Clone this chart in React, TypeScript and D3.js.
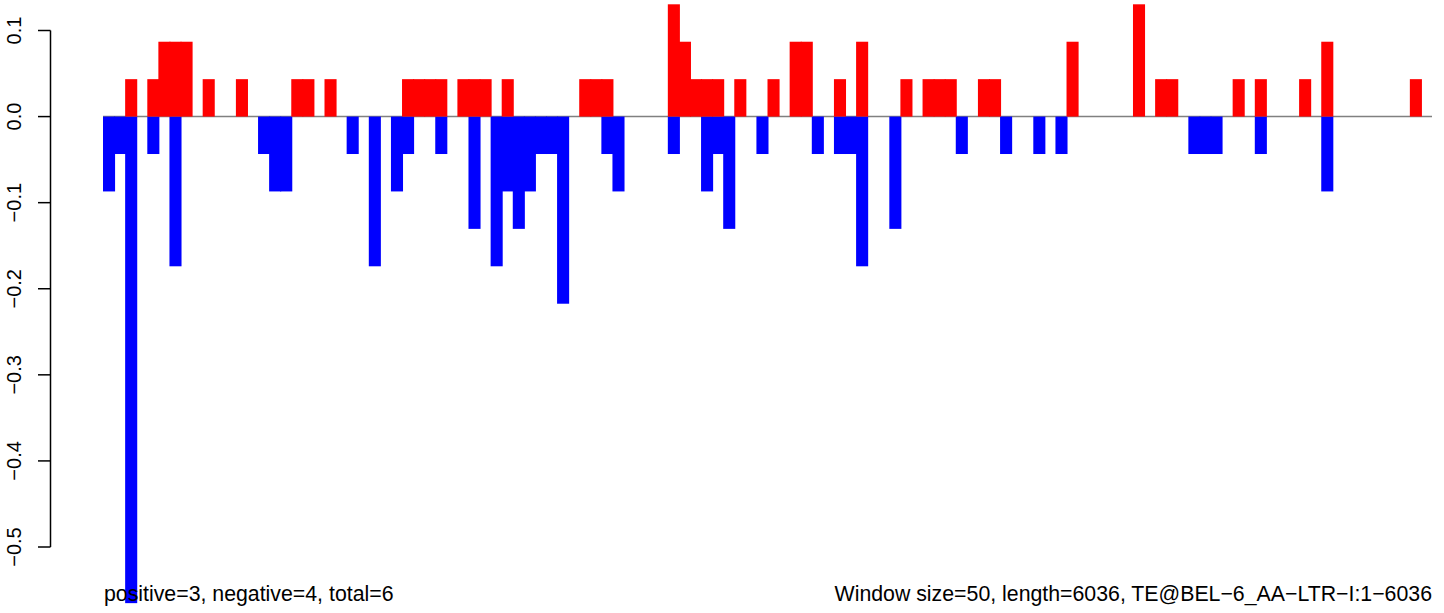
import React from "react";
import * as d3 from "d3";

// One unit = 1/23 (values are multiples of it)
const U = 1 / 23;

// window indices (0..119) with positive values (in units of U)
const posIndex = [2, 4, 5, 6, 7, 9, 12, 17, 18, 20, 27, 28, 29, 30, 32, 33, 34, 36, 43, 44, 45, 51, 52, 53, 54, 55, 57, 60, 62, 63, 66, 68, 72, 74, 75, 76, 79, 80, 87, 93, 95, 96, 102, 104, 108, 110, 118];
const posUnits = [1, 1, 2, 2, 2, 1, 1, 1, 1, 1, 1, 1, 1, 1, 1, 1, 1, 1, 1, 1, 1, 3, 2, 1, 1, 1, 1, 1, 2, 2, 1, 2, 1, 1, 1, 1, 1, 1, 2, 3, 1, 1, 1, 1, 1, 2, 1];

// window indices with negative values (in units of U)
const negIndex = [0, 1, 2, 4, 6, 14, 15, 16, 22, 24, 26, 27, 30, 33, 35, 36, 37, 38, 39, 40, 41, 45, 46, 51, 54, 55, 56, 59, 64, 66, 67, 68, 71, 77, 81, 84, 86, 98, 99, 100, 104, 110];
const negUnits = [2, 1, 13, 1, 4, 1, 2, 2, 1, 4, 2, 1, 1, 3, 4, 2, 3, 2, 1, 1, 5, 1, 2, 1, 2, 1, 3, 1, 1, 1, 1, 4, 3, 1, 1, 1, 1, 1, 1, 1, 1, 2];

const nWindows = 120;
const yTicks = [0.1, 0.0, -0.1, -0.2, -0.3, -0.4, -0.5];
const leftNote = "positive=3, negative=4, total=6";
const rightNote = "Window size=50, length=6036, TE@BEL\u22126_AA\u2212LTR\u2212I:1\u22126036";

const W = 1444;
const H = 613;

export default function App() {
  const x = d3.scaleLinear().domain([0, nWindows]).range([103, 1432]);
  const y = d3.scaleLinear().domain([-0.5, 0.1]).range([547, 30.5]);
  const step = x(1) - x(0);
  const bw = step + 1;
  const fmt = (v: number) => (v < 0 ? "\u2212" : "") + d3.format(".1f")(Math.abs(v));
  const font = "'Liberation Sans', Arial, Helvetica, sans-serif";

  const pos = posIndex.map((i, k) => ({ i, v: posUnits[k] * U }));
  const neg = negIndex.map((i, k) => ({ i, v: -negUnits[k] * U }));

  return (
    <svg width={W} height={H} style={{ position: "absolute", left: 0, top: 0, background: "#fff" }} fontFamily={font}>
      <line x1={x(0)} x2={x(nWindows)} y1={y(0)} y2={y(0)} stroke="#808080" strokeWidth={1.5} />
      {neg.map((d) => (
        <rect key={"n" + d.i} x={x(d.i)} width={bw} y={y(0)} height={y(d.v) - y(0)} fill="#0000FF" />
      ))}
      {pos.map((d) => (
        <rect key={"p" + d.i} x={x(d.i)} width={bw} y={y(d.v)} height={y(0) - y(d.v)} fill="#FF0000" />
      ))}
      <line x1={50.5} x2={50.5} y1={y(0.1)} y2={y(-0.5)} stroke="#000" strokeWidth={1.5} />
      {yTicks.map((t) => (
        <g key={t}>
          <line x1={38} x2={50.5} y1={y(t)} y2={y(t)} stroke="#000" strokeWidth={1.5} />
          <text transform={`translate(21,${y(t)}) rotate(-90)`} textAnchor="middle" fontSize={20} fill="#000">
            {fmt(t)}
          </text>
        </g>
      ))}
      <text x={104} y={601} fontSize={21.3} fill="#000">{leftNote}</text>
      <text x={1432} y={601} fontSize={21.3} textAnchor="end" fill="#000">{rightNote}</text>
    </svg>
  );
}
